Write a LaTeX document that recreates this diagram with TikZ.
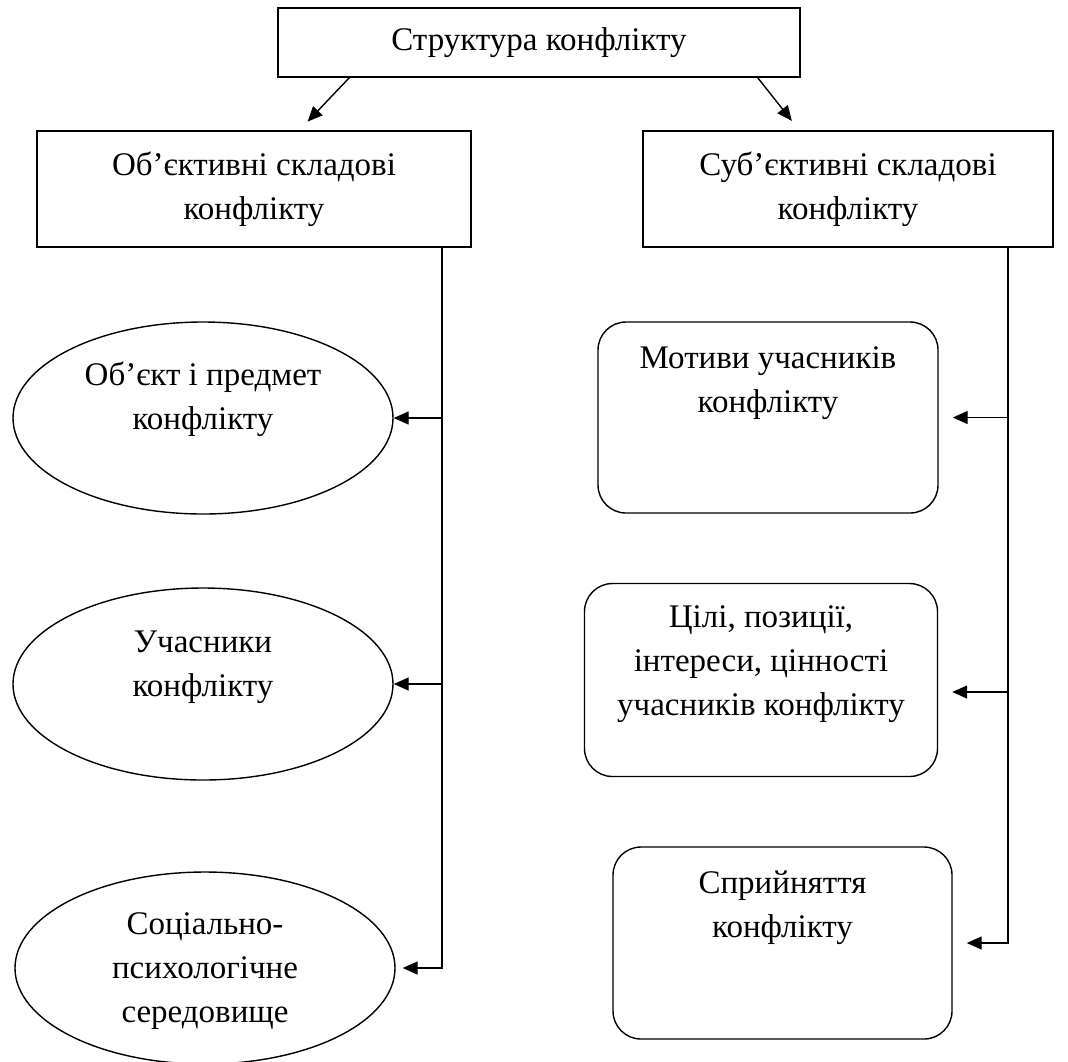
\documentclass[tikz,border=0pt]{standalone}
\usepackage{fontspec}
\setmainfont{Liberation Serif}
\usetikzlibrary{
    positioning,       % Relative positioning
    shapes.geometric,  % Ellipses
    arrows.meta        % Modern arrow tips
}
\newcommand{\txtfont}{\fontsize{16.5}{22}\selectfont}
\tikzset{headbox/.style={
    draw, line width=0.7pt, rectangle, align=center, font=\txtfont
}}
\tikzset{oval/.style={
    draw, line width=0.7pt, ellipse, minimum width=190pt, minimum height=96pt
}}
\tikzset{rbox/.style={
    draw, line width=0.7pt, rectangle, rounded corners=14pt
}}
\tikzset{txt/.style={align=center, font=\txtfont, inner sep=0pt}}
\tikzset{arr/.style={
    line width=0.7pt, -{Triangle[length=7.5pt,width=6.5pt]}
}}

\begin{document}
\begin{tikzpicture}[x=0.5pt, y=-0.5pt]
    \path[use as bounding box, fill=white] (0,0) rectangle (1068,1061);

    % top level
    \node[headbox, minimum width=261pt, minimum height=34.5pt] (struct) at (539,42.5) {Структура конфлікту};
    \node[headbox, minimum width=217pt, minimum height=58pt] (obj) at (254,189) {Об’єктивні складові\\конфлікту};
    \node[headbox, minimum width=205pt, minimum height=58pt] (subj) at (848,189) {Суб’єктивні складові\\конфлікту};

    % objective side
    \node[oval] (e1) at (203,418) {};
    \node[oval] (e2) at (203,684) {};
    \node[oval] (e3) at (205,968) {};
    \node[txt] (e1t) at ([yshift=9.5pt]e1.center) {Об’єкт і предмет\\конфлікту};
    \node[txt] (e2t) at ([yshift=8.5pt]e2.center) {Учасники\\конфлікту};
    \node[txt] (e3t) at ([yshift=-1.5pt]e3.center) {Соціально-\\психологічне\\середовище};

    % subjective side
    \node[rbox, minimum width=170pt, minimum height=95.5pt] (b1) at (768,417.5) {};
    \node[rbox, minimum width=176.5pt, minimum height=96.5pt] (b2) at (761,680) {};
    \node[rbox, minimum width=169.5pt, minimum height=96pt] (b3) at (782.5,943) {};
    \node[txt] (b1t) at ([yshift=17pt]b1.center) {Мотиви учасників\\конфлікту};
    \node[txt] (b2t) at ([yshift=8pt]b2.center) {Цілі, позиції,\\інтереси, цінності\\учасників конфлікту};
    \node[txt] (b3t) at ([yshift=17.5pt]b3.center) {Сприйняття\\конфлікту};

    \coordinate (lbus) at (442,0);
    \coordinate (rbus) at (1008,0);

    % connectors
    \draw[arr, shorten >=6pt] ([xshift=36pt]struct.south west) -- ([xshift=131.5pt]obj.north west);
    \draw[arr, shorten >=6pt] ([xshift=-21.5pt]struct.south east) -- ([xshift=78.5pt]subj.north west);

    \draw[arr, shorten >=3.5pt] (obj.south -| lbus) -- (lbus |- e3.east) -- (e3.east);
    \draw[arr] (lbus |- e1.east) -- (e1.east);
    \draw[arr] (lbus |- e2.east) -- (e2.east);

    \draw[arr, shorten >=7pt] (subj.south -| rbus) -- (rbus |- b3.east) -- (b3.east);
    \draw[arr, shorten >=7pt] (rbus |- b1.east) -- (b1.east);
    \draw[arr, shorten >=7pt] ([yshift=-6pt]b2.east -| rbus) -- ([yshift=-6pt]b2.east);
\end{tikzpicture}
\end{document}
